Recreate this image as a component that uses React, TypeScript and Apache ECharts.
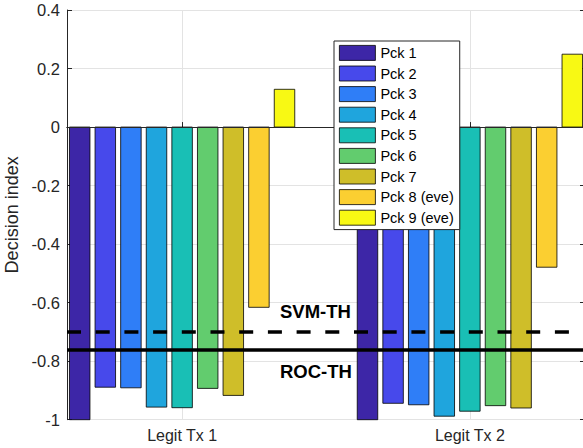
import React, { useEffect, useRef } from "react";
import * as echarts from "echarts";

// Group positions on the x axis and their labels
const groupPositions = [1, 2];
const groupLabels = ["Legit Tx 1", "Legit Tx 2"];

// Packet series (one bar per group)
const packetNames = [
  "Pck 1",
  "Pck 2",
  "Pck 3",
  "Pck 4",
  "Pck 5",
  "Pck 6",
  "Pck 7",
  "Pck 8 (eve)",
  "Pck 9 (eve)",
];
const packetColors = [
  "#3d26a7",
  "#4749eb",
  "#2f7ef7",
  "#1fa5dd",
  "#19bfb5",
  "#62cc6e",
  "#cfbe29",
  "#fbcf31",
  "#f8f914",
];

const pck1 = [-1.0, -1.0];
const pck2 = [-0.889, -0.944];
const pck3 = [-0.891, -0.949];
const pck4 = [-0.957, -0.988];
const pck5 = [-0.959, -0.971];
const pck6 = [-0.893, -0.952];
const pck7 = [-0.917, -0.96];
const pck8 = [-0.616, -0.479];
const pck9 = [0.129, 0.249];
const packetValues = [pck1, pck2, pck3, pck4, pck5, pck6, pck7, pck8, pck9];

// Decision thresholds
const svmThreshold = -0.7;
const rocThreshold = -0.755;
const thresholdLabels = ["SVM-TH", "ROC-TH"];
const thresholdLabelX = 1.34;

// Axis ranges
const xMin = 0.6;
const xMax = 2.4;
const yMin = -1;
const yMax = 0.4;
const yStep = 0.2;

const FONT = "'Liberation Sans', Arial, Helvetica, sans-serif";
const AXIS_COLOR = "#262626";
const GRID_COLOR = "#e3e3e3";

// Grouped-bar geometry in pixels
const BAR_WIDTH = 20.5;
const BAR_PITCH = 25.6;

export default function App() {
  const ref = useRef<HTMLDivElement>(null);

  useEffect(() => {
    if (!ref.current) return;
    const chart = echarts.init(ref.current, undefined, { renderer: "svg" });
    const mid = (packetNames.length - 1) / 2;

    const series: any[] = packetNames.map((name, i) => ({
      type: "custom",
      name,
      xAxisIndex: 0,
      yAxisIndex: 0,
      data: groupPositions.map((x, g) => [x, packetValues[i][g]]),
      encode: { x: 0, y: 1 },
      itemStyle: {
        color: packetColors[i],
        borderColor: "#000",
        borderWidth: 0.8,
      },
      renderItem: (_params: any, api: any) => {
        const gx = api.value(0);
        const v = api.value(1);
        const base = api.coord([gx, 0]);
        const top = api.coord([gx, v]);
        const cx = base[0] + (i - mid) * BAR_PITCH;
        return {
          type: "rect",
          shape: {
            x: cx - BAR_WIDTH / 2,
            y: Math.min(base[1], top[1]),
            width: BAR_WIDTH,
            height: Math.abs(top[1] - base[1]),
          },
          style: api.style(),
        };
      },
    }));

    // Zero baseline and the two threshold lines
    series.push({
      type: "line",
      name: "thresholds",
      data: [],
      xAxisIndex: 0,
      yAxisIndex: 0,
      silent: true,
      markLine: {
        silent: true,
        symbol: ["none", "none"],
        z: 5,
        animation: false,
        label: { show: false },
        emphasis: { disabled: true },
        data: [
          { yAxis: 0, lineStyle: { color: AXIS_COLOR, width: 1, type: "solid" } },
          { yAxis: svmThreshold, lineStyle: { color: "#000", width: 3.5, type: [14, 14.7] } },
          { yAxis: rocThreshold, lineStyle: { color: "#000", width: 3.5, type: "solid" } },
        ],
      },
    });

    const option: any = {
      animation: false,
      textStyle: { fontFamily: FONT },
      grid: { left: 67, top: 10, width: 518, height: 409.7, outerBoundsMode: "none", containLabel: false },
      legend: {
        orient: "vertical",
        left: 334,
        top: 41,
        z: 10,
        data: packetNames,
        icon: "rect",
        itemWidth: 36,
        itemHeight: 15,
        itemGap: 4.8,
        padding: [4, 6, 4, 5],
        backgroundColor: "#fff",
        borderColor: AXIS_COLOR,
        borderWidth: 1,
        selectedMode: false,
        itemStyle: { borderColor: "#000", borderWidth: 0.8 },
        textStyle: { fontSize: 14.5, color: "#000", fontFamily: FONT },
      },
      xAxis: [
        {
          type: "value",
          min: xMin,
          max: xMax,
          position: "bottom",
          axisLine: { show: true, lineStyle: { color: AXIS_COLOR, width: 1 } },
          axisTick: {
            show: true,
            inside: true,
            length: 5,
            customValues: groupPositions,
            lineStyle: { color: AXIS_COLOR },
          },
          axisLabel: {
            show: true,
            customValues: groupPositions,
            formatter: (v: number) => groupLabels[groupPositions.indexOf(v)] ?? "",
            fontSize: 16,
            color: AXIS_COLOR,
            fontFamily: FONT,
            margin: 8,
          },
          splitLine: { show: true, lineStyle: { color: GRID_COLOR, width: 1 } },
        },
        {
          type: "value",
          min: xMin,
          max: xMax,
          position: "top",
          axisLine: { show: true, lineStyle: { color: AXIS_COLOR, width: 1 } },
          axisTick: {
            show: true,
            inside: true,
            length: 5,
            customValues: groupPositions,
            lineStyle: { color: AXIS_COLOR },
          },
          axisLabel: { show: false },
          splitLine: { show: false },
        },
      ],
      yAxis: [
        {
          type: "value",
          min: yMin,
          max: yMax,
          interval: yStep,
          position: "left",
          name: "Decision index",
          nameLocation: "middle",
          nameGap: 46,
          nameTextStyle: { fontSize: 18, color: AXIS_COLOR, fontFamily: FONT },
          axisLine: { show: true, lineStyle: { color: AXIS_COLOR, width: 1 } },
          axisTick: { show: true, inside: true, length: 5, lineStyle: { color: AXIS_COLOR } },
          axisLabel: {
            fontSize: 16.5,
            color: AXIS_COLOR,
            fontFamily: FONT,
            margin: 7,
            formatter: (v: number) => String(Number(v.toFixed(1))),
          },
          splitLine: { show: true, lineStyle: { color: GRID_COLOR, width: 1 } },
        },
        {
          type: "value",
          min: yMin,
          max: yMax,
          interval: yStep,
          position: "right",
          axisLine: { show: true, lineStyle: { color: AXIS_COLOR, width: 1 } },
          axisTick: { show: true, inside: true, length: 5, lineStyle: { color: AXIS_COLOR } },
          axisLabel: { show: false },
          splitLine: { show: false },
        },
      ],
      series,
    };

    chart.setOption(option);

    // Threshold captions, placed from the axis scales
    const svmPx = chart.convertToPixel({ gridIndex: 0 }, [thresholdLabelX, svmThreshold]) as number[];
    const rocPx = chart.convertToPixel({ gridIndex: 0 }, [thresholdLabelX, rocThreshold]) as number[];
    const captionStyle = {
      fontSize: 18.5,
      fontWeight: "bold",
      fontFamily: FONT,
      fill: "#000",
      textAlign: "left",
      textVerticalAlign: "middle",
    };
    chart.setOption({
      graphic: [
        {
          type: "text",
          x: svmPx[0],
          y: svmPx[1] - 20,
          z: 20,
          style: { ...captionStyle, text: thresholdLabels[0] },
        },
        {
          type: "text",
          x: rocPx[0],
          y: rocPx[1] + 23.5,
          z: 20,
          style: { ...captionStyle, text: thresholdLabels[1] },
        },
      ],
    });

    return () => chart.dispose();
  }, []);

  return (
    <div
      ref={ref}
      style={{ position: "absolute", left: 0, top: 0, width: 583, height: 448, background: "#fff" }}
    />
  );
}
